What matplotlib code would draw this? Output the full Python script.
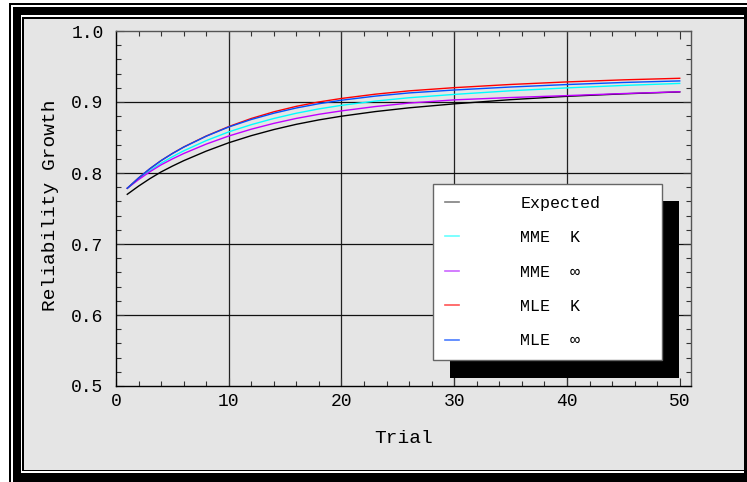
import matplotlib
matplotlib.use("Agg")
import matplotlib.pyplot as plt
from matplotlib.patches import Rectangle
from matplotlib.lines import Line2D
from matplotlib.ticker import MultipleLocator

plt.rcParams['font.family'] = ['Liberation Mono', 'DejaVu Sans Mono', 'DejaVu Sans']

# ---------------- data ----------------
trial = [1, 2, 3, 4, 5, 6, 8, 10, 12, 14, 16, 18, 20, 23, 26, 30, 35, 40, 45, 50]
expected = [.7700, .7815, .7920, .8015, .8097, .8173, .8308, .8426, .8526, .8612,
            .8686, .8748, .8800, .8865, .8918, .8974, .9033, .9080, .9115, .9142]
mme_k = [.7785, .7915, .8033, .8138, .8229, .8312, .8456, .8579, .8681, .8768,
         .8842, .8903, .8953, .9013, .9060, .9107, .9158, .9199, .9233, .9262]
mme_inf = [.7785, .7907, .8017, .8115, .8198, .8274, .8407, .8521, .8617, .8699,
           .8769, .8827, .8875, .8936, .8985, .9030, .9063, .9090, .9119, .9144]
mle_k = [.7785, .7930, .8060, .8175, .8275, .8366, .8521, .8654, .8768, .8862,
         .8939, .9001, .9050, .9110, .9157, .9202, .9247, .9283, .9312, .9334]
mle_inf = [.7785, .7930, .8060, .8175, .8274, .8364, .8518, .8648, .8754, .8842,
           .8916, .8976, .9025, .9083, .9128, .9169, .9211, .9246, .9275, .9297]

series_labels = ["Expected", "MME  K", "MME  \u221e", "MLE  K", "MLE  \u221e"]
series_colors = ["#000000", "#00ffff", "#c000ff", "#ff0000", "#0050ff"]
legend_colors = ["#808080", "#66ffff", "#cc66ff", "#ff5555", "#4a7dff"]

xticks = [0, 10, 20, 30, 40, 50]
yticks = [0.5, 0.6, 0.7, 0.8, 0.9, 1.0]
xlabel = "Trial"
ylabel = "Reliability Growth"

# ---------------- figure ----------------
W, H = 747, 482
fig = plt.figure(figsize=(W / 100, H / 100), dpi=100, facecolor="white")

# decorative frame (pixel coordinates)
bg = fig.add_axes([0, 0, 1, 1], zorder=-10)
bg.set_xlim(0, W)
bg.set_ylim(H, 0)
bg.axis("off")
def rect(x0, y0, x1, y1, c):
    bg.add_patch(Rectangle((x0, y0), x1 - x0, y1 - y0, facecolor=c, edgecolor="none"))
rect(9, 3.3, W, H, "black")
rect(11, 5.3, W, H, "white")
rect(13.3, 7.3, W, H, "black")
rect(21, 15.3, 744, 473.3, "white")
rect(22.3, 17.3, 744, 471.3, "black")
rect(24.3, 19.2, 744, 469.5, "#e5e5e5")

gray = "#e5e5e5"
left, right, top, bottom = 116, 691, 31, 386
ax = fig.add_axes([left / W, 1 - bottom / H, (right - left) / W, (bottom - top) / H])
ax.set_facecolor(gray)

all_series = [expected, mme_k, mme_inf, mle_k, mle_inf]
for ys, c in zip(all_series, series_colors):
    ax.plot(trial, ys, color=c, lw=1.0, zorder=3)

ax.set_xlim(0, 51)
ax.set_ylim(0.5, 1.0)
ax.set_xticks(xticks)
ax.set_yticks(yticks)
ax.set_xticklabels([str(t) for t in xticks])
ax.set_yticklabels([f"{t:.1f}" for t in yticks])
ax.xaxis.set_minor_locator(MultipleLocator(2))
ax.yaxis.set_minor_locator(MultipleLocator(0.02))

for t in xticks:
    if xticks[0] < t < xticks[-1]:
        ax.axvline(t, color="#222222", lw=0.9, zorder=1)
for t in yticks:
    if yticks[0] < t < yticks[-1]:
        ax.axhline(t, color="#111111", lw=0.9, zorder=1)

ax.tick_params(which="both", direction="in", top=True, right=True, color="#333333")
ax.tick_params(which="major", length=6, width=0.8)
ax.tick_params(which="minor", length=3.5, width=0.8)
ax.tick_params(axis="y", which="major", labelsize=13, pad=9)
ax.tick_params(axis="x", which="major", labelsize=13, pad=5)

for s in ["left", "bottom"]:
    ax.spines[s].set_color("black")
    ax.spines[s].set_linewidth(1.0)
for s in ["top", "right"]:
    ax.spines[s].set_color("#555555")
    ax.spines[s].set_linewidth(1.0)

ax.set_xlabel(xlabel, fontsize=14)
ax.xaxis.set_label_coords(0.5, -0.123)
ax.set_ylabel(ylabel, fontsize=14)
ax.yaxis.set_label_coords(-0.099, 0.51)

handles = [Line2D([], [], color=c, lw=1.2) for c in legend_colors]
leg_x0, leg_y0, leg_x1, leg_y1 = 432.7, 184, 661.7, 360
leg = ax.legend(handles, series_labels, loc="upper left",
                bbox_to_anchor=(leg_x0 / W, 1 - leg_y1 / H, (leg_x1 - leg_x0) / W, (leg_y1 - leg_y0) / H),
                bbox_transform=fig.transFigure, mode="expand", borderaxespad=0,
                fontsize=12, handlelength=0.84, handletextpad=3.7, borderpad=0.72,
                labelspacing=1.16, fancybox=False, framealpha=1, facecolor="white",
                edgecolor="#666666")
leg.get_frame().set_linewidth(1.0)
leg.set_zorder(10)

fig.canvas.draw()
bb = leg.get_window_extent().transformed(fig.transFigure.inverted())
off_x, off_y = 17.5 / W, 17.5 / H
shadow = Rectangle((bb.x0 + off_x, bb.y0 - off_y), bb.width, bb.height,
                   transform=fig.transFigure, facecolor="black", edgecolor="none",
                   zorder=9, clip_on=False)
ax.add_patch(shadow)

fig.savefig("out.png", dpi=100, facecolor="white")
